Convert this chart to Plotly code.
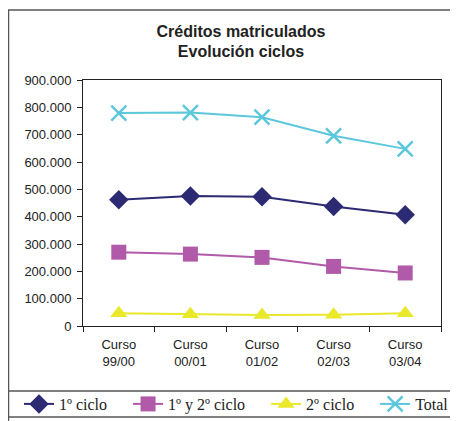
import plotly.graph_objects as go

cursos = ["Curso<br>99/00", "Curso<br>00/01", "Curso<br>01/02", "Curso<br>02/03", "Curso<br>03/04"]
primer_ciclo = [462000, 476000, 473000, 437000, 407000]
primer_segundo_ciclo = [270000, 263000, 251000, 218000, 194000]
segundo_ciclo = [47000, 43000, 40000, 41000, 47000]
total = [779000, 781000, 764000, 696000, 648000]

# trailing no-break spaces widen the legend entries like the original
pad = "\u00a0" * 4
series = [
    ("1º ciclo" + pad, primer_ciclo, "#2B2A72", "diamond"),
    ("1º y 2º ciclo" + pad, primer_segundo_ciclo, "#B15AA9", "square"),
    ("2º ciclo" + pad, segundo_ciclo, "#E9E82A", "triangle-up"),
    ("Total", total, "#5CC7DB", "x-thin"),
]

fig = go.Figure()
for name, values, color, symbol in series:
    fig.add_trace(go.Scatter(
        x=cursos, y=values, name=name, mode="lines+markers",
        line=dict(color=color, width=2),
        marker=dict(symbol=symbol, size=15, color=color,
                    line=dict(color=color, width=2.5 if symbol == "x-thin" else 0)),
    ))

# page has an 8px body margin, so the figure is 450x413 and sits at (8, 8)
W, H = 450, 413

# window pixel -> paper coords (plot area spans 83..441 x 80..326 in the window)
def px_x(p):
    return (p - 83) / 358

def px_y(p):
    return (326 - p) / 246

frame = dict(type="line", xref="paper", yref="paper", line=dict(color="#555555", width=1.5))
shapes = [
    dict(frame, x0=px_x(8.5), x1=px_x(8.5), y0=px_y(10), y1=px_y(425)),
    dict(frame, x0=px_x(8), x1=px_x(470), y0=px_y(10), y1=px_y(10)),
    dict(frame, x0=px_x(8), x1=px_x(470), y0=px_y(391), y1=px_y(391)),
    dict(frame, x0=px_x(8), x1=px_x(470), y0=px_y(417), y1=px_y(417)),
]

fig.update_layout(
    width=W, height=H,
    margin=dict(l=75, r=17, t=72, b=95, autoexpand=False),
    paper_bgcolor="white", plot_bgcolor="white",
    separators=",.",
    font=dict(family="Liberation Sans, Arial", size=13, color="#222222"),
    title=dict(
        text="<b>Créditos matriculados<br>Evolución ciclos</b>",
        xref="container", x=(241 - 8) / W, xanchor="center",
        yref="container", y=1 - 28.5 / H, yanchor="middle",
        font=dict(size=16, color="#222222"),
    ),
    xaxis=dict(
        showline=True, mirror=True, linecolor="#222222", linewidth=1,
        ticks="outside", ticklen=5, tickcolor="#222222", tickson="boundaries",
        showgrid=False, range=[-0.5, 4.5], automargin=False,
        ticklabelstandoff=6,
    ),
    yaxis=dict(
        showline=True, mirror=True, linecolor="#222222", linewidth=1,
        ticks="outside", ticklen=5, tickcolor="#222222",
        showgrid=False, zeroline=False, range=[0, 900000], dtick=100000,
        tickformat=",d", automargin=False, ticklabelstandoff=3,
    ),
    legend=dict(
        orientation="h", x=px_x(19), xanchor="left", y=px_y(404), yanchor="middle",
        font=dict(family="Liberation Serif, Times New Roman", size=16, color="#222222"),
        bgcolor="rgba(0,0,0,0)", itemwidth=30, tracegroupgap=0,
    ),
    shapes=shapes,
)

fig.write_html("out.html")
